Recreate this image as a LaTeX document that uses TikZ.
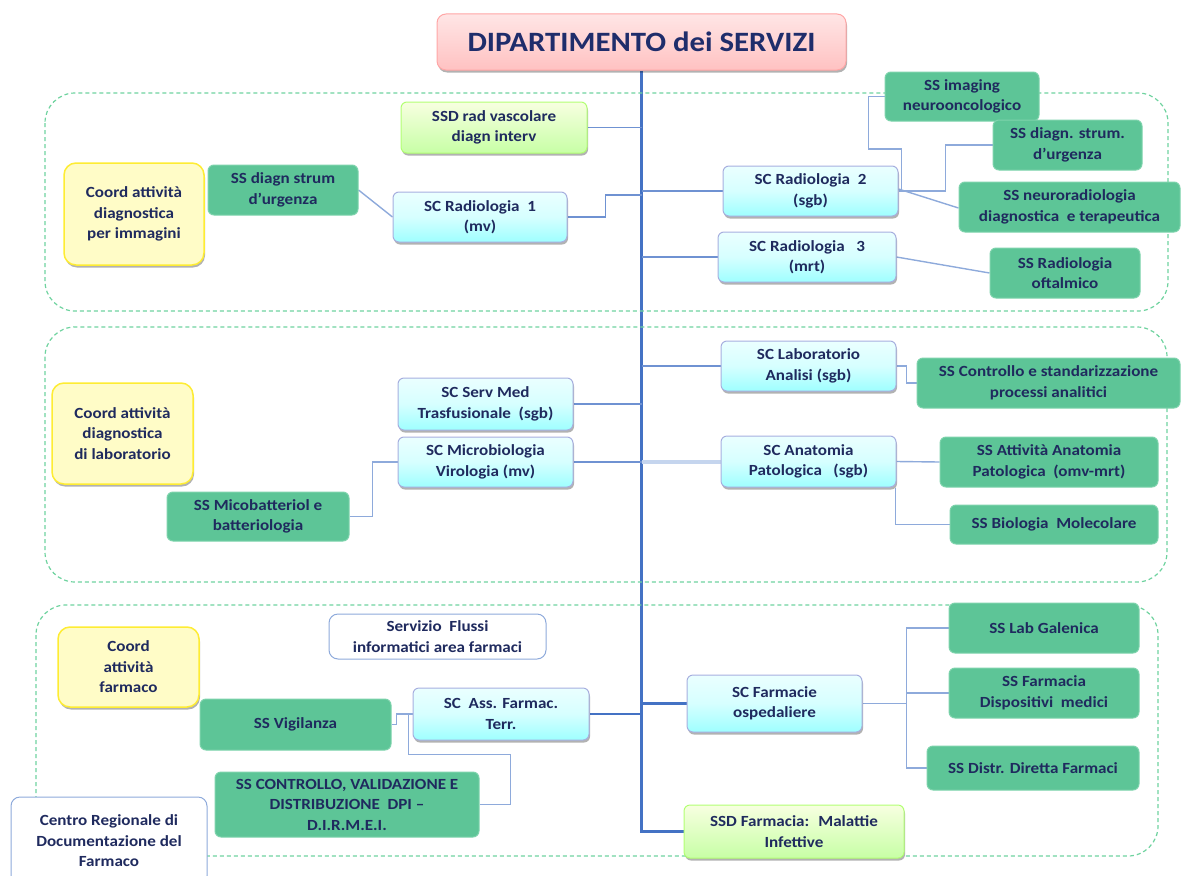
\documentclass[tikz,border=0pt]{standalone}
\usepackage{fontspec}
\setmainfont{Carlito}[FakeStretch=1.1]
\usetikzlibrary{shadows,backgrounds}

\definecolor{navy}{HTML}{1F2A5E}
\definecolor{titlenavy}{HTML}{1F2D6B}
\definecolor{linkblue}{HTML}{8EAADB}
\definecolor{trunkblue}{HTML}{4472C4}
\definecolor{branchblue}{HTML}{6F92D2}
\definecolor{palelink}{HTML}{C5D5EE}
\definecolor{zonegreen}{HTML}{6FD39F}
\definecolor{ssgreen}{HTML}{5DC597}
\definecolor{ssborder}{HTML}{7ED3AC}

\tikzset{
  base/.style={rounded corners=6pt, align=center, text=navy, inner sep=2pt,
    font=\fontsize{15.5}{20.5}\selectfont\bfseries, line width=1pt},
  shade/.style={drop shadow={shadow xshift=1pt, shadow yshift=-2.5pt, fill=black, opacity=0.3}},
  bluebox/.style={base, shade, draw=cyan!30!blue!35, top color=cyan!8, bottom color=cyan!38!white, middle color=cyan!16},
  greenbox/.style={base, draw=ssborder, fill=ssgreen},
  yellowbox/.style={base, shade, rounded corners=12pt, draw=yellow!90!orange!80, line width=1.5pt, fill=yellow!22},
  limebox/.style={base, shade, draw=lime!60!green!55, top color=lime!12, bottom color=lime!50!green!35!white},
  whitebox/.style={base, rounded corners=9pt, draw=linkblue, fill=white},
  titlebox/.style={base, shade, rounded corners=9pt, draw=red!35, top color=red!10, bottom color=red!24,
    text=titlenavy, font=\fontsize{28}{30}\selectfont\bfseries},
  zone/.style={draw=zonegreen, line width=1.2pt, rounded corners=30pt, dash pattern=on 4pt off 3pt},
  link/.style={draw=linkblue, line width=1.4pt},
  branch/.style={draw=branchblue, line width=1.4pt},
  trunk/.style={draw=trunkblue, line width=3pt},
  thicklink/.style={draw=trunkblue, line width=2.6pt},
  palebranch/.style={draw=palelink, line width=4pt},
}

\begin{document}
\begin{tikzpicture}[x=1pt, y=-1pt]
\useasboundingbox (0,0) rectangle (1182,875);

% grouping frames
\draw[zone] (45,93) rectangle (1168,311);
\draw[zone] (45,327) rectangle (1167,582);
\draw[zone] (36,605) rectangle (1158,856);

% head of the department
\node[titlebox, minimum width=409pt, minimum height=56pt] (title) at (641.5,42) {DIPARTIMENTO dei SERVIZI};

% ---- imaging area ----
\node[limebox, minimum width=186pt, minimum height=51pt] (ssdrad) at (494,127.5) {SSD rad vascolare\\diagn interv};
\node[yellowbox, minimum width=140pt, minimum height=102pt] (coord1) at (134,214) {Coord attività\\diagnostica\\per immagini};
\node[greenbox, minimum width=150pt, minimum height=50pt] (ssdiagn) at (283,190) {SS diagn strum\\d’urgenza};
\node[bluebox, minimum width=174pt, minimum height=50pt] (rad1) at (480,217) {SC Radiologia~~1\\(mv)};
\node[bluebox, minimum width=175pt, minimum height=50pt] (rad2) at (810.5,191) {SC Radiologia~~2\\(sgb)};
\node[bluebox, minimum width=178pt, minimum height=50pt] (rad3) at (807,257) {SC Radiologia~~~3\\(mrt)};
\node[greenbox, minimum width=154pt, minimum height=49pt] (img) at (962,96.5) {SS imaging\\neurooncologico};
\node[greenbox, minimum width=149pt, minimum height=50pt] (urg) at (1067.5,145) {SS diagn. strum.\\d’urgenza};
\node[greenbox, minimum width=221pt, minimum height=50pt] (neuro) at (1069.5,207) {SS neuroradiologia\\diagnostica~ e terapeutica};
\node[greenbox, minimum width=150pt, minimum height=50pt] (oft) at (1065,273) {SS Radiologia\\oftalmico};

% ---- laboratory area ----
\node[yellowbox, minimum width=141pt, minimum height=101pt] (coord2) at (122.5,433.5) {Coord attività\\diagnostica\\di laboratorio};
\node[bluebox, minimum width=175pt, minimum height=52pt] (trasf) at (485.5,404) {SC Serv Med\\Trasfusionale~ (sgb)};
\node[bluebox, minimum width=175pt, minimum height=50pt] (micro) at (485.5,462) {SC Microbiologia\\Virologia (mv)};
\node[greenbox, minimum width=182pt, minimum height=49pt] (mico) at (258,516.5) {SS Micobatteriol e\\batteriologia};
\node[bluebox, minimum width=175pt, minimum height=50pt] (lab) at (808.5,366) {SC Laboratorio\\Analisi (sgb)};
\node[greenbox, minimum width=263pt, minimum height=50pt] (ctrl) at (1048.5,383) {SS Controllo e standarizzazione\\processi analitici};
\node[bluebox, minimum width=175pt, minimum height=51pt] (ap) at (808.5,461.5) {SC Anatomia\\Patologica~~ (sgb)};
\node[greenbox, minimum width=218pt, minimum height=50pt] (apss) at (1049,462) {SS Attività Anatomia\\Patologica~ (omv-mrt)};
\node[greenbox, minimum width=208pt, minimum height=39pt] (bio) at (1054,524.5) {SS Biologia~ Molecolare};

% ---- pharmacy area ----
\node[yellowbox, minimum width=141pt, minimum height=80pt] (coord3) at (128.5,667) {Coord\\attività\\farmaco};
\node[whitebox, minimum width=217pt, minimum height=45pt] (flussi) at (437.5,636.5) {Servizio~ Flussi\\informatici area farmaci};
\node[greenbox, minimum width=191pt, minimum height=51pt] (vig) at (295.5,724.5) {SS Vigilanza};
\node[bluebox, minimum width=176pt, minimum height=52pt] (ass) at (501,714) {SC~ Ass. Farmac.\\Terr.};
\node[greenbox, minimum width=264pt, minimum height=65pt] (dpi) at (347,804.5) {SS CONTROLLO, VALIDAZIONE E\\DISTRIBUZIONE~ DPI –\\D.I.R.M.E.I.};
\node[whitebox, minimum width=196pt, minimum height=88pt] (centro) at (109,841) {Centro Regionale di\\Documentazione del\\Farmaco};
\node[bluebox, minimum width=175pt, minimum height=57pt] (farm) at (774.5,703.5) {SC Farmacie\\ospedaliere};
\node[greenbox, minimum width=190pt, minimum height=50pt] (gal) at (1044,628) {SS Lab Galenica};
\node[greenbox, minimum width=190pt, minimum height=50pt] (disp) at (1044,693) {SS Farmacia\\Dispositivi~ medici};
\node[greenbox, minimum width=212pt, minimum height=44pt] (distr) at (1033,768) {SS Distr. Diretta Farmaci};
\node[limebox, minimum width=220pt, minimum height=53pt] (ssdmal) at (794,831.5) {SSD Farmacia:~ Malattie\\Infettive};

% ---- connectors, behind the boxes ----
\begin{pgfonlayer}{background}
\coordinate (ttop) at (title.south);
\coordinate (j1) at (641.5,195);

% spine of the department
\draw[trunk] (title.south) |- (ssdmal.west);

% imaging area
\draw[branch] (ssdrad.east) -- (ssdrad.east -| ttop);
\draw[branch] (rad1.east) -- ++(38,0) |- (j1);
\draw[branch] (rad2.west) -- (rad2.west -| ttop);
\draw[branch] (rad3.west) -- (rad3.west -| ttop);
\draw[link] (ssdiagn.east) -- (rad1.west);
\draw[link] (rad2.east) -- ++(3,0) -- ++(0,-42) -- ++(-33,0) |- (img.west);
\draw[link] (rad2.east) -- ++(47,0) |- (urg.west);
\draw[link] ([yshift=2pt]rad2.east) -- ([yshift=-1pt]neuro.west);
\draw[link] (rad3.east) -- (oft.west);

% laboratory area
\draw[branch] (trasf.east) -- (trasf.east -| ttop);
\draw[branch] (micro.east) -- (micro.east -| ttop);
\draw[link] (mico.east) -- ++(23,0) |- (micro.west);
\draw[branch] (lab.west) -- (lab.west -| ttop);
\draw[link] (lab.east) -- ++(10,0) |- (ctrl.west);
\draw[palebranch] (ap.west) -- (ap.west -| ttop);
\draw[link] (ap.east) -- (apss.west);
\draw[link] ([xshift=-1pt]ap.south east) |- (bio.west);

% pharmacy area
\draw[link] (vig.east) -- ++(5,0) |- (ass.west);
\draw[link] (dpi.east) -- ++(31,0) -- ++(0,-50) -- ++(-102,0) |- (ass.west);
\draw[thicklink] (ass.east) -- (ass.east -| ttop);
\draw[thicklink] (farm.west) -- (farm.west -| ttop);
\draw[link] (farm.east) -- ++(44,0) coordinate (fj);
\draw[link] (fj) |- (gal.west);
\draw[link] (fj) |- (disp.west);
\draw[link] (fj) |- (distr.west);
\end{pgfonlayer}
\end{tikzpicture}
\end{document}
